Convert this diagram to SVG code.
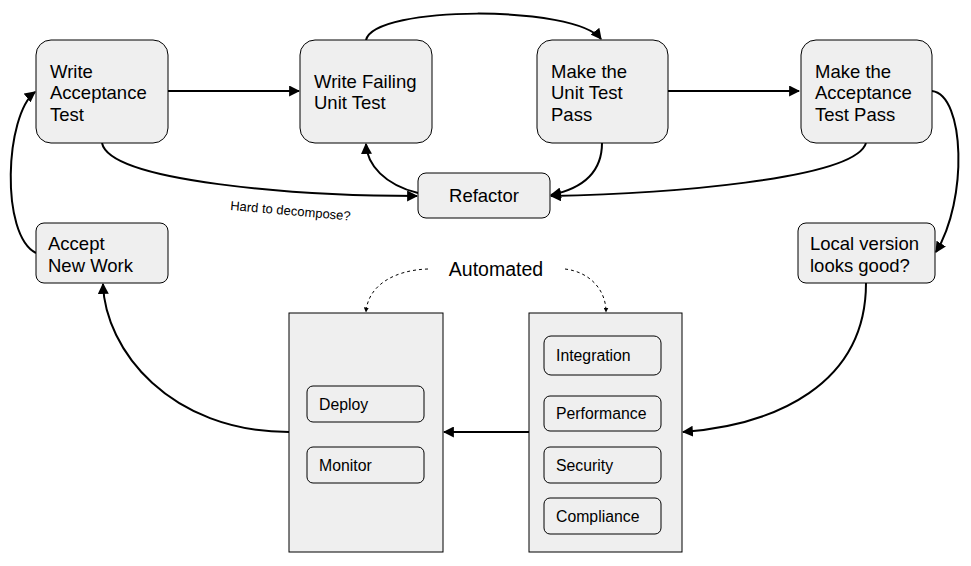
<svg xmlns="http://www.w3.org/2000/svg" width="971" height="566" viewBox="0 0 971 566">
<style>
.box{fill:#efefef;stroke:#000;stroke-width:1}
.t{font-family:"Liberation Sans",Arial,sans-serif;font-size:18.5px;fill:#000}
.s{font-family:"Liberation Sans",Arial,sans-serif;font-size:15.8px;fill:#000}
.c{fill:none;stroke:#000;stroke-width:2}
.d{fill:none;stroke:#000;stroke-width:1;stroke-dasharray:3,3}
</style>
<defs>
<marker id="a" viewBox="0 0 10 10" refX="9" refY="5" markerWidth="5.5" markerHeight="5.5" markerUnits="strokeWidth" orient="auto"><path d="M0,0 L10,5 L0,10 z" fill="#000"/></marker>
<marker id="ad" viewBox="0 0 10 10" refX="9" refY="5" markerWidth="5" markerHeight="5" markerUnits="strokeWidth" orient="auto"><path d="M0,0 L10,5 L0,10 z" fill="#000"/></marker>
</defs>
<g id="connectors">
<path class="c" marker-end="url(#a)" d="M168,91 L299,91"/>
<path class="c" marker-end="url(#a)" d="M668,91 L799,91"/>
<path class="c" marker-end="url(#a)" d="M366,40 C375,5 575,5 601,39"/>
<path class="c" marker-end="url(#a)" d="M102,143 C110,182 300,196 417,196"/>
<path class="c" marker-end="url(#a)" d="M418,193 C385,185 367,165 366,144"/>
<path class="c" marker-end="url(#a)" d="M602,143 C602,175 580,189 551,195"/>
<path class="c" marker-end="url(#a)" d="M866,143 C855,180 660,194 551,196"/>
<path class="c" marker-end="url(#a)" d="M932,91 C965,95 968,200 936,252"/>
<path class="c" marker-end="url(#a)" d="M866,283 C866,385 775,425 683,432"/>
<path class="c" marker-end="url(#a)" d="M529,432 L444,432"/>
<path class="c" marker-end="url(#a)" d="M289,432 C170,432 105,350 103,284"/>
<path class="c" marker-end="url(#a)" d="M36,253 C0,235 5,115 35,92"/>
<path class="d" marker-end="url(#ad)" d="M428,269 C395,270 368,285 366,312"/>
<path class="d" marker-end="url(#ad)" d="M565,269 C590,272 606,290 606,312"/>
</g>
<g id="write-acceptance"><rect class="box" x="36" y="40" width="132" height="103" rx="15"/><text class="t" x="50" y="78">Write</text><text class="t" x="50" y="99">Acceptance</text><text class="t" x="50" y="121">Test</text></g>
<g id="write-failing"><rect class="box" x="300" y="40" width="132" height="103" rx="15"/><text class="t" x="314" y="88">Write Failing</text><text class="t" x="314" y="109">Unit Test</text></g>
<g id="make-unit-pass"><rect class="box" x="537" y="40" width="131" height="103" rx="15"/><text class="t" x="551" y="78">Make the</text><text class="t" x="551" y="99">Unit Test</text><text class="t" x="551" y="121">Pass</text></g>
<g id="make-acceptance-pass"><rect class="box" x="801" y="40" width="131" height="103" rx="15"/><text class="t" x="815" y="78">Make the</text><text class="t" x="815" y="99">Acceptance</text><text class="t" x="815" y="121">Test Pass</text></g>
<g id="refactor"><rect class="box" x="418" y="173" width="132" height="45" rx="8"/><text class="t" x="484" y="202" text-anchor="middle">Refactor</text></g>
<g id="accept-new-work"><rect class="box" x="36" y="223" width="132" height="60" rx="8"/><text class="t" x="48" y="250">Accept</text><text class="t" x="48" y="272">New Work</text></g>
<g id="local-version"><rect class="box" x="798" y="223" width="137" height="60" rx="8"/><text class="t" x="810" y="250">Local version</text><text class="t" x="810" y="272">looks good?</text></g>
<g id="automated-label"><text class="t" x="496" y="276" text-anchor="middle" style="font-size:19.5px">Automated</text></g>
<g id="hard-label"><text class="s" x="230" y="210" transform="rotate(5 230 210)" style="font-size:13px">Hard to decompose?</text></g>
<g id="deploy-group"><rect class="box" x="289" y="313" width="154" height="239"/>
<g id="deploy"><rect class="box" x="307" y="386" width="117" height="36" rx="6"/><text class="s" x="319" y="410">Deploy</text></g>
<g id="monitor"><rect class="box" x="307" y="447" width="117" height="36" rx="6"/><text class="s" x="319" y="471">Monitor</text></g>
</g>
<g id="test-group"><rect class="box" x="529" y="313" width="153" height="239"/>
<g id="integration"><rect class="box" x="544" y="336" width="117" height="39" rx="7"/><text class="s" x="556" y="361">Integration</text></g>
<g id="performance"><rect class="box" x="544" y="396" width="117" height="35" rx="6"/><text class="s" x="556" y="419">Performance</text></g>
<g id="security"><rect class="box" x="544" y="447" width="117" height="36" rx="6"/><text class="s" x="556" y="471">Security</text></g>
<g id="compliance"><rect class="box" x="544" y="498" width="117" height="36" rx="6"/><text class="s" x="556" y="522">Compliance</text></g>
</g>
</svg>
